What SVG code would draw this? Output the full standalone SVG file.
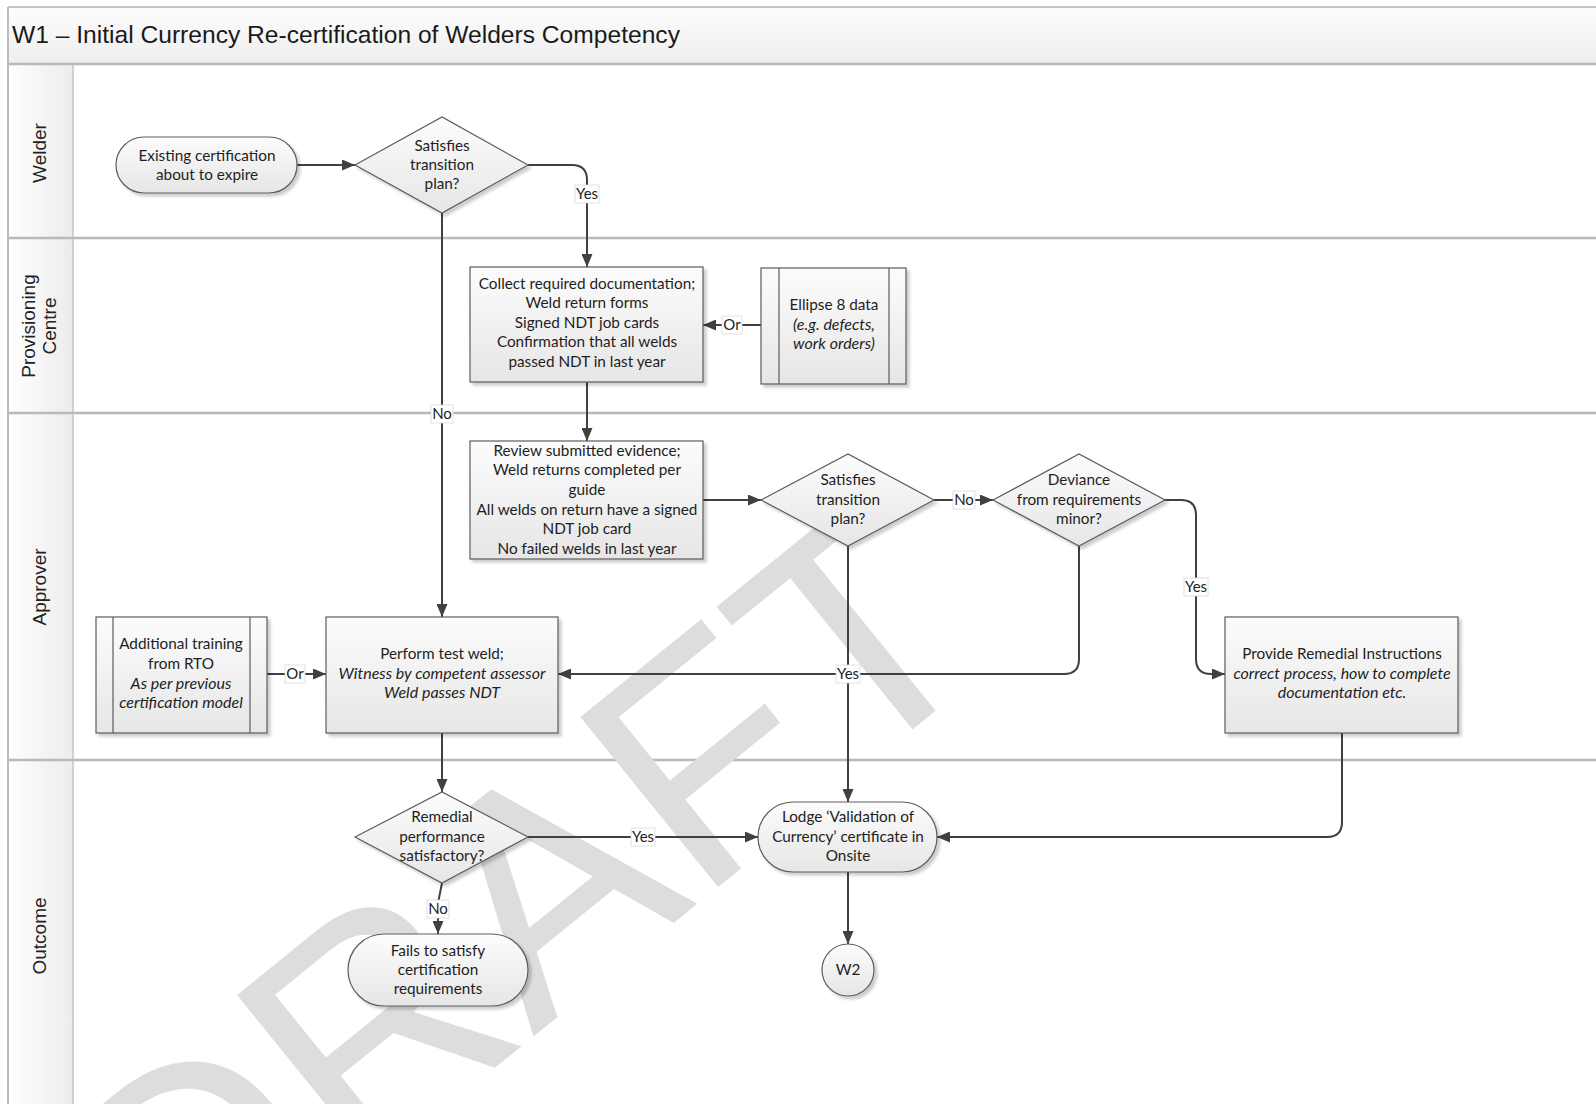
<svg xmlns="http://www.w3.org/2000/svg" width="1596" height="1104" viewBox="0 0 1596 1104">
  <defs>
    <linearGradient id="gTitle" x1="0" y1="0" x2="0" y2="1">
      <stop offset="0" stop-color="#fdfdfd"/>
      <stop offset="1" stop-color="#eeeeee"/>
    </linearGradient>
    <linearGradient id="gLane" x1="0" y1="0" x2="1" y2="0">
      <stop offset="0" stop-color="#ffffff"/>
      <stop offset="1" stop-color="#ececec"/>
    </linearGradient>
    <linearGradient id="gNode" x1="0" y1="0" x2="0" y2="1">
      <stop offset="0" stop-color="#fcfcfc"/>
      <stop offset="1" stop-color="#e6e6e6"/>
    </linearGradient>
    <filter id="shadow" x="-10%" y="-10%" width="130%" height="130%">
      <feDropShadow dx="3" dy="3" stdDeviation="1.5" flood-color="#000" flood-opacity="0.2"/>
    </filter>
    <marker id="arrow" viewBox="0 0 13 11" refX="13" refY="5.5" markerWidth="13" markerHeight="11" markerUnits="userSpaceOnUse" orient="auto">
      <path d="M0,0 L13,5.5 L0,11 Z" fill="#404040"/>
    </marker>
    <style>
      .node { fill: url(#gNode); stroke: #5c5c5c; stroke-width: 1.2; filter: url(#shadow); }
      .inner { stroke: #5c5c5c; stroke-width: 1.2; fill: none; }
      .t { font-family: Lato, "Open Sans", sans-serif; font-size: 15.3px; fill: #1e1e1e; text-anchor: middle; }
      .i { font-style: italic; font-size: 16px; }
      .lane { font-family: "Liberation Sans", Arial, sans-serif; font-size: 19px; fill: #222; text-anchor: middle; }
      .sep { stroke: #b9b9b9; stroke-width: 2.5; }
      .conn { fill: none; stroke: #404040; stroke-width: 2; }
      .lblbg { fill: #ffffff; stroke: #dadada; stroke-width: 0.8; }
      .lbl { font-family: Lato, "Open Sans", sans-serif; font-size: 15px; fill: #1e1e1e; text-anchor: middle; }
    </style>
  </defs>

  <rect width="1596" height="1104" fill="#ffffff"/>

  <!-- Pool frame, title band and swimlanes -->
  <g id="pool">
    <rect x="8" y="7" width="1600" height="57" fill="url(#gTitle)"/>
    <line x1="8" y1="7" x2="1596" y2="7" stroke="#c4c4c4" stroke-width="2"/>
    <text x="12" y="43" font-family="'Liberation Sans', Arial, sans-serif" font-size="24.6" fill="#1a1a1a">W1 – Initial Currency Re-certification of Welders Competency</text>
    <rect x="8" y="64" width="65" height="1045" fill="url(#gLane)"/>
    <line x1="8" y1="7" x2="8" y2="1104" stroke="#bdbdbd" stroke-width="2"/>
    <line x1="73" y1="64" x2="73" y2="1104" stroke="#c4c4c4" stroke-width="1.5"/>
    <line class="sep" x1="8" y1="64" x2="1596" y2="64"/>
    <line class="sep" x1="8" y1="238" x2="1596" y2="238"/>
    <line class="sep" x1="8" y1="413" x2="1596" y2="413"/>
    <line class="sep" x1="8" y1="760" x2="1596" y2="760"/>
    <text class="lane" transform="translate(46,153) rotate(-90)">Welder</text>
    <text class="lane" transform="translate(35,326) rotate(-90)">Provisioning</text>
    <text class="lane" transform="translate(56,326) rotate(-90)">Centre</text>
    <text class="lane" transform="translate(46,587) rotate(-90)">Approver</text>
    <text class="lane" transform="translate(46,936) rotate(-90)">Outcome</text>
  </g>

  <!-- Draft watermark -->
  <g id="watermark">
    <text transform="translate(176,1326) rotate(-39)" font-family="'Liberation Sans', Arial, sans-serif" font-size="318" fill="#dddddd">DRAFT</text>
  </g>

  <!-- Connectors -->
  <g id="connectors">
    <path class="conn" d="M297,165 H355" marker-end="url(#arrow)"/>
    <path class="conn" d="M528,165 H572 Q587,165 587,180 V267" marker-end="url(#arrow)"/>
    <path class="conn" d="M442,213 V617" marker-end="url(#arrow)"/>
    <path class="conn" d="M761,325 H703" marker-end="url(#arrow)"/>
    <path class="conn" d="M587,382 V441" marker-end="url(#arrow)"/>
    <path class="conn" d="M703,500 H761" marker-end="url(#arrow)"/>
    <path class="conn" d="M934,500 H993" marker-end="url(#arrow)"/>
    <path class="conn" d="M1165,500 H1181 Q1196,500 1196,515 V659 Q1196,674 1211,674 H1225" marker-end="url(#arrow)"/>
    <path class="conn" d="M1079,546 V659 Q1079,674 1064,674 H558" marker-end="url(#arrow)"/>
    <path class="conn" d="M848,546 V802" marker-end="url(#arrow)"/>
    <path class="conn" d="M267,674 H326" marker-end="url(#arrow)"/>
    <path class="conn" d="M442,733 V792" marker-end="url(#arrow)"/>
    <path class="conn" d="M528,837 H758" marker-end="url(#arrow)"/>
    <path class="conn" d="M442,883 L438,903 V934" marker-end="url(#arrow)"/>
    <path class="conn" d="M1342,733 V822 Q1342,837 1327,837 H937" marker-end="url(#arrow)"/>
    <path class="conn" d="M848,872 V944" marker-end="url(#arrow)"/>

    <!-- connector labels -->
    <rect class="lblbg" x="575" y="185" width="24" height="18"/>
    <text class="lbl" x="587" y="199">Yes</text>
    <rect class="lblbg" x="431" y="405" width="22" height="18"/>
    <text class="lbl" x="442" y="419">No</text>
    <rect class="lblbg" x="722" y="316" width="20" height="18"/>
    <text class="lbl" x="732" y="330">Or</text>
    <rect class="lblbg" x="953" y="491" width="22" height="18"/>
    <text class="lbl" x="964" y="505">No</text>
    <rect class="lblbg" x="1184" y="578" width="24" height="18"/>
    <text class="lbl" x="1196" y="592">Yes</text>
    <rect class="lblbg" x="836" y="665" width="24" height="18"/>
    <text class="lbl" x="848" y="679">Yes</text>
    <rect class="lblbg" x="285" y="665" width="20" height="18"/>
    <text class="lbl" x="295" y="679">Or</text>
    <rect class="lblbg" x="631" y="828" width="24" height="18"/>
    <text class="lbl" x="643" y="842">Yes</text>
    <rect class="lblbg" x="427" y="900" width="22" height="18"/>
    <text class="lbl" x="438" y="914">No</text>
  </g>

  <!-- Welder lane -->
  <g id="start">
    <rect class="node" x="116" y="137" width="181" height="56" rx="28"/>
    <text class="t" x="207" y="161">Existing certification</text>
    <text class="t" x="207" y="180">about to expire</text>
  </g>
  <g id="decision-transition">
    <polygon class="node" points="355,165 442,117 528,165 442,213"/>
    <text class="t" x="442" y="151">Satisfies</text>
    <text class="t" x="442" y="170">transition</text>
    <text class="t" x="442" y="189">plan?</text>
  </g>

  <!-- Provisioning Centre lane -->
  <g id="collect-docs">
    <rect class="node" x="470" y="267" width="233" height="115"/>
    <text class="t" x="587" y="289">Collect required documentation;</text>
    <text class="t" x="587" y="308">Weld return forms</text>
    <text class="t" x="587" y="328">Signed NDT job cards</text>
    <text class="t" x="587" y="347">Confirmation that all welds</text>
    <text class="t" x="587" y="367">passed NDT in last year</text>
  </g>
  <g id="ellipse-data">
    <rect class="node" x="761" y="268" width="145" height="116"/>
    <line class="inner" x1="779" y1="268" x2="779" y2="384"/>
    <line class="inner" x1="889" y1="268" x2="889" y2="384"/>
    <text class="t" x="834" y="310">Ellipse 8 data</text>
    <text class="t i" x="834" y="330">(e.g. defects,</text>
    <text class="t i" x="834" y="349">work orders)</text>
  </g>

  <!-- Approver lane -->
  <g id="review-evidence">
    <rect class="node" x="470" y="441" width="233" height="118"/>
    <text class="t" x="587" y="456">Review submitted evidence;</text>
    <text class="t" x="587" y="475">Weld returns completed per</text>
    <text class="t" x="587" y="495">guide</text>
    <text class="t" x="587" y="515">All welds on return have a signed</text>
    <text class="t" x="587" y="534">NDT job card</text>
    <text class="t" x="587" y="554">No failed welds in last year</text>
  </g>
  <g id="decision-transition-2">
    <polygon class="node" points="761,500 848,454 934,500 848,546"/>
    <text class="t" x="848" y="485">Satisfies</text>
    <text class="t" x="848" y="505">transition</text>
    <text class="t" x="848" y="524">plan?</text>
  </g>
  <g id="decision-deviance">
    <polygon class="node" points="993,500 1079,454 1165,500 1079,546"/>
    <text class="t" x="1079" y="485">Deviance</text>
    <text class="t" x="1079" y="505">from requirements</text>
    <text class="t" x="1079" y="524">minor?</text>
  </g>
  <g id="additional-training">
    <rect class="node" x="96" y="617" width="171" height="116"/>
    <line class="inner" x1="113" y1="617" x2="113" y2="733"/>
    <line class="inner" x1="250" y1="617" x2="250" y2="733"/>
    <text class="t" x="181" y="649">Additional training</text>
    <text class="t" x="181" y="669">from RTO</text>
    <text class="t i" x="181" y="689">As per previous</text>
    <text class="t i" x="181" y="708">certification model</text>
  </g>
  <g id="test-weld">
    <rect class="node" x="326" y="617" width="232" height="116"/>
    <text class="t" x="442" y="659">Perform test weld;</text>
    <text class="t i" x="442" y="679">Witness by competent assessor</text>
    <text class="t i" x="442" y="698">Weld passes NDT</text>
  </g>
  <g id="remedial-instructions">
    <rect class="node" x="1225" y="617" width="233" height="116"/>
    <text class="t" x="1342" y="659">Provide Remedial Instructions</text>
    <text class="t i" x="1342" y="679">correct process, how to complete</text>
    <text class="t i" x="1342" y="698">documentation etc.</text>
  </g>

  <!-- Outcome lane -->
  <g id="decision-remedial">
    <polygon class="node" points="355,837 442,792 528,837 442,883"/>
    <text class="t" x="442" y="822">Remedial</text>
    <text class="t" x="442" y="842">performance</text>
    <text class="t" x="442" y="861">satisfactory?</text>
  </g>
  <g id="lodge-certificate">
    <rect class="node" x="758" y="802" width="179" height="70" rx="35"/>
    <text class="t" x="848" y="822">Lodge ‘Validation of</text>
    <text class="t" x="848" y="842">Currency’ certificate in</text>
    <text class="t" x="848" y="861">Onsite</text>
  </g>
  <g id="fails">
    <rect class="node" x="348" y="934" width="180" height="72" rx="36"/>
    <text class="t" x="438" y="956">Fails to satisfy</text>
    <text class="t" x="438" y="975">certification</text>
    <text class="t" x="438" y="994">requirements</text>
  </g>
  <g id="w2">
    <circle class="node" cx="848" cy="970" r="26"/>
    <text class="t" x="848" y="975">W2</text>
  </g>
</svg>
